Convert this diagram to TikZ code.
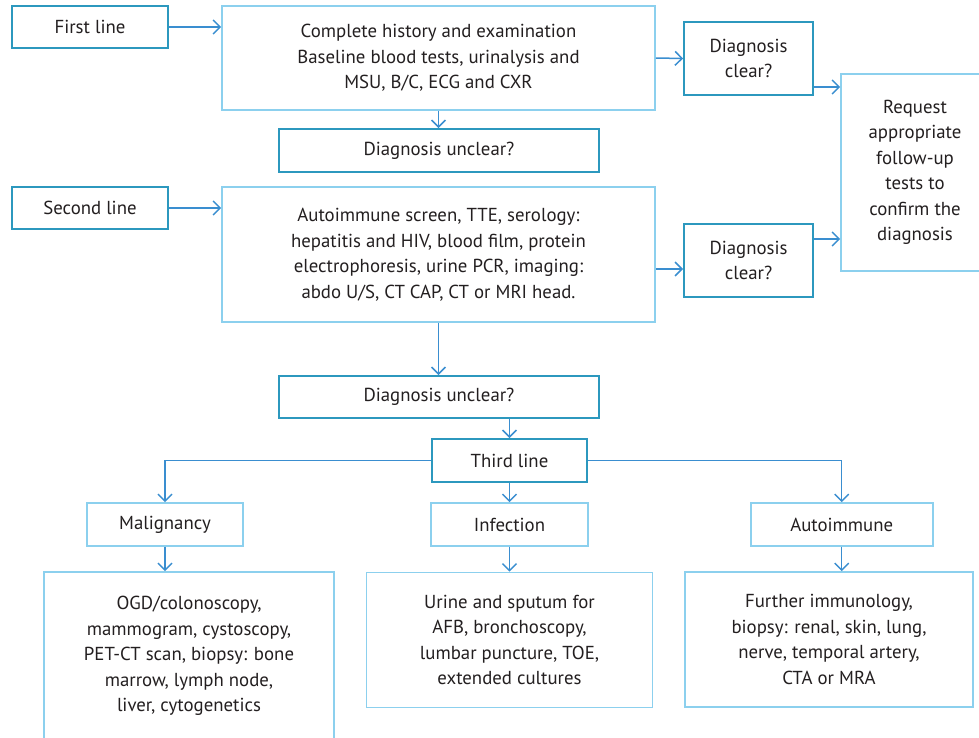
\documentclass[tikz,border=0pt]{standalone}
\usepackage{fontspec}
\setmainfont{PT Sans}
\usetikzlibrary{arrows.meta}
\definecolor{darkb}{RGB}{44,152,190}
\definecolor{lightb}{RGB}{140,208,238}
\definecolor{arrc}{RGB}{58,142,208}
\definecolor{txt}{RGB}{35,31,32}
\tikzset{
  basebox/.style={rectangle, inner sep=0pt, align=center, text=txt,
    font=\fontsize{18.8}{25.5}\selectfont},
  darkbox/.style={basebox, draw=darkb, line width=1.8pt},
  lightbox/.style={basebox, draw=lightb, line width=1.6pt},
  arr/.style={draw=arrc, line width=1.5pt, -{Straight Barb[length=7pt,width=14pt,line width=1.5pt]}},
  ln/.style={draw=arrc, line width=1.5pt}
}
\begin{document}
\begin{tikzpicture}[x=1pt,y=-1pt]
\useasboundingbox[fill=white] (0,0) rectangle (979,737);
% top row
\node[darkbox, minimum width=156pt, minimum height=42pt] (first) at (90,27) {First line};
\node[lightbox, minimum width=433pt, minimum height=104pt] (box1) at (438.5,58) {Complete history and examination\\Baseline blood tests, urinalysis and\\MSU, B/C, ECG and CXR};
\node[darkbox, minimum width=129pt, minimum height=73pt] (clear1) at (748.5,58.5) {Diagnosis\\clear?};
\node[lightbox, minimum width=148pt, minimum height=197pt] (request) at (915,172.5) {Request\\appropriate\\follow-up\\tests to\\confirm the\\diagnosis};
\node[darkbox, minimum width=320pt, minimum height=43pt] (unclear1) at (439,150.5) {Diagnosis unclear?};
% second row
\node[darkbox, minimum width=156pt, minimum height=42pt] (second) at (90,208) {Second line};
\node[lightbox, minimum width=433pt, minimum height=135pt] (box2) at (438.5,254.5) {Autoimmune screen, TTE, serology:\\hepatitis and HIV, blood film, protein\\electrophoresis, urine PCR, imaging:\\abdo U/S, CT CAP, CT or MRI head.};
\node[darkbox, minimum width=129pt, minimum height=73pt] (clear2) at (748.5,260.5) {Diagnosis\\clear?};
\node[darkbox, minimum width=320pt, minimum height=42pt] (unclear2) at (439,397) {Diagnosis unclear?};
% third line
\node[darkbox, minimum width=155pt, minimum height=43pt] (third) at (509.5,460.5) {Third line};
\node[lightbox, minimum width=156pt, minimum height=43pt] (malig) at (165,524.5) {Malignancy};
\node[lightbox, minimum width=157pt, minimum height=43pt] (infect) at (509.5,524.5) {Infection};
\node[lightbox, minimum width=182pt, minimum height=43pt] (autoim) at (841.7,524.5) {Autoimmune};
\node[lightbox, minimum width=290pt, minimum height=168pt] (maligbig) at (189,656) {OGD/colonoscopy,\\mammogram, cystoscopy,\\PET-CT scan, biopsy: bone\\marrow, lymph node,\\liver, cytogenetics};
\node[lightbox, minimum width=286pt, minimum height=135pt] (infectbig) at (509.5,640) {Urine and sputum for\\AFB, bronchoscopy,\\lumbar puncture, TOE,\\extended cultures};
\node[lightbox, minimum width=288pt, minimum height=135pt] (autobig) at (829,639.5) {Further immunology,\\biopsy: renal, skin, lung,\\nerve, temporal artery,\\CTA or MRA};
% helper coordinates
\coordinate (r1) at (0,87);
\coordinate (r2) at (0,269);
\coordinate (r3) at (0,239);
% connectors
\draw[arr] (first.east) -- (first.east -| box1.west);
\draw[arr] (second.east) -- (second.east -| box2.west);
\draw[arr] (box1.east) -- (clear1.west);
\draw[arr] (clear1.east |- r1) -- (request.west |- r1);
\draw[arr] (box2.east |- r2) -- (clear2.west |- r2);
\draw[arr] (clear2.east |- r3) -- (request.west |- r3);
\draw[arr] (box1.south) -- (box1.south |- unclear1.north);
\draw[arr] (box2.south) -- (box2.south |- unclear2.north);
\draw[arr] (third.north |- unclear2.south) -- (third.north);
\draw[arr] (third.west) -| (malig.north);
\draw[arr] (third.east) -| (autoim.north);
\draw[arr] (third.south) -- (infect.north);
\draw[arr] (malig.south) -- (malig.south |- maligbig.north);
\draw[arr] (infect.south) -- (infectbig.north);
\draw[arr] (autoim.south) -- (autoim.south |- autobig.north);
\end{tikzpicture}
\end{document}
